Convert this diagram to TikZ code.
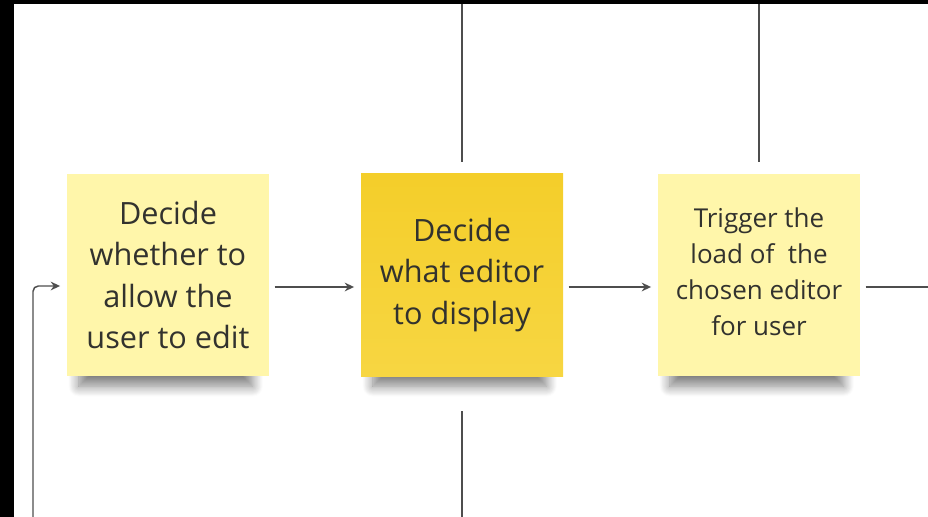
\documentclass[tikz,border=0pt]{standalone}
\usepackage{fontspec}
\setmainfont{Open Sans}
\usetikzlibrary{arrows.meta,calc,shadows.blur}

\definecolor{notelight}{RGB}{255,246,170}
\definecolor{notedark}{RGB}{244,206,42}
\definecolor{notedarklow}{RGB}{247,214,66}
\definecolor{inkgray}{RGB}{50,50,46}
\definecolor{wiregray}{RGB}{78,78,78}

\begin{document}
\begin{tikzpicture}[x=0.75pt,y=0.75pt,yscale=-1,xscale=1,
  sticky/.style={rectangle, inner sep=0pt, minimum width=151.5pt, minimum height=152pt,
    align=center, text=inkgray, font=\fontsize{23}{31.2}\selectfont,
    blur shadow={shadow xshift=-2pt, shadow yshift=-21pt, shadow scale=0.86,
      shadow blur radius=9pt, shadow blur steps=12, shadow opacity=50}},
  wire/.style={draw=wiregray, line width=1.1pt},
  flow/.style={wire, -{Stealth[length=7pt,width=6.5pt]}, shorten <=4pt, shorten >=5pt}]
%set diagram to 928 x 517
\useasboundingbox (0,0) rectangle (928,517);
\fill [black] (0,0) rectangle (928,4);
\fill [black] (0,0) rectangle (14,517);

%Sticky note [id:allow]
\node [sticky, fill=notelight] (allow) at (168,275) {Decide\\whether to\\allow the\\user to edit};
%Sticky note [id:choose]
\node [sticky, top color=notedark, bottom color=notedarklow] (choose) at (462,275) {Decide\\what editor\\to display};
%Sticky note [id:trigger]
\node [sticky, fill=notelight, font=\fontsize{19.5}{27}\selectfont] (trigger) at (759,275) {Trigger the\\load of \ the\\chosen editor\\for user\vphantom{g}};

%Free ends
\coordinate (loopIn) at (33,517);
\coordinate (chooseUp) at (462,4);
\coordinate (chooseDown) at (462,517);
\coordinate (triggerUp) at (759,4);
\coordinate (exitR) at (928,287);

%Straight Lines
\draw [flow, rounded corners=4pt, shorten <=0pt] (loopIn) |- ($(allow.west)+(0,11)$);
\draw [flow] ($(allow.east)+(0,12)$) -- ($(choose.west)+(0,12)$);
\draw [flow] ($(choose.east)+(0,12)$) -- ($(trigger.west)+(0,12)$);
\draw [wire, shorten <=4pt] ($(trigger.east)+(0,12)$) -- (exitR);
%Vertical Lines
\draw [wire, shorten >=8.5pt] (chooseUp) -- (choose.north);
\draw [wire, shorten <=26pt] (choose.south) -- (chooseDown);
\draw [wire, shorten >=8.5pt] (triggerUp) -- (trigger.north);

\end{tikzpicture}
\end{document}
